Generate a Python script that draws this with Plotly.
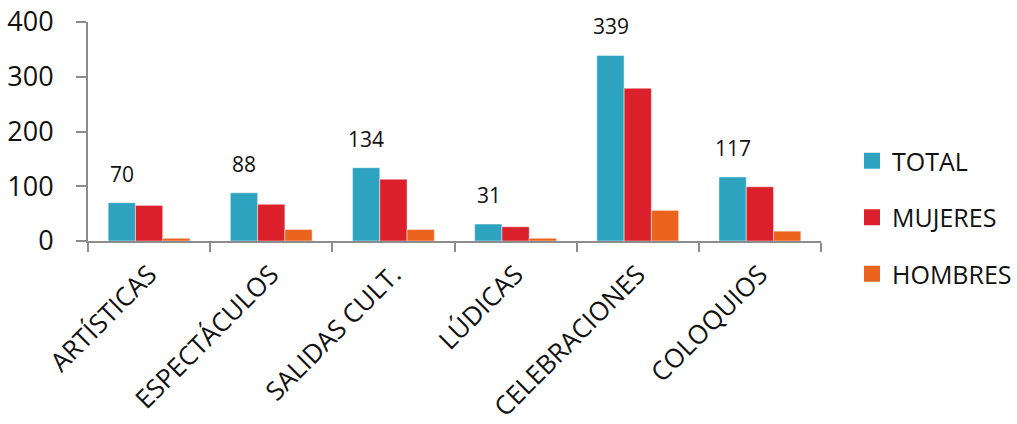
import plotly.graph_objects as go

categories = ["ARTÍSTICAS", "ESPECTÁCULOS", "SALIDAS CULT.", "LÚDICAS", "CELEBRACIONES", "COLOQUIOS"]
total = [70, 88, 134, 31, 339, 117]
mujeres = [65, 67, 113, 26, 279, 99]
hombres = [5, 21, 21, 5, 56, 18]
series_names = ["TOTAL", "MUJERES", "HOMBRES"]
colors = ["#2DA3C0", "#DB1F2B", "#EA6420"]
y_ticks = [0, 100, 200, 300, 400]

FONT = "Open Sans"
fig = go.Figure()
for name, vals, col in zip(series_names, [total, mujeres, hombres], colors):
    fig.add_trace(go.Bar(
        x=categories, y=vals, name=name, marker_color=col,
        marker_line=dict(width=0.8, color="rgba(255,255,255,0.6)"),
        showlegend=False,
    ))
# legend entries
for i, (name, col) in enumerate(zip(series_names, colors)):
    fig.add_trace(go.Scatter(
        x=[None], y=[None], mode="markers", name=name,
        marker=dict(symbol="square", size=19, color=col),
        legendgroup=name, showlegend=True,
    ))

# data labels for TOTAL
for c, v in zip(categories, total):
    fig.add_annotation(x=c, y=v, text=str(v), showarrow=False, xshift=-27,
                       yanchor="bottom", yshift=13,
                       font=dict(family=FONT, size=21, color="#111"))

fig.update_layout(
    width=1017, height=424,
    margin=dict(l=88, r=196, t=22, b=183),
    plot_bgcolor="white", paper_bgcolor="white",
    barmode="group", bargap=0.33, bargroupgap=0,
    font=dict(family=FONT, color="#111"),
    legend=dict(
        xref="container", yref="container", x=852/1017, y=1 - 138/424,
        xanchor="left", yanchor="top",
        font=dict(family=FONT, size=25, color="#111"),
        tracegroupgap=21, bgcolor="rgba(0,0,0,0)",
    ),
)
fig.update_xaxes(
    automargin=False,
    showline=True, linecolor="#8C8C8C", linewidth=2,
    ticks="outside", tickson="boundaries", ticklen=9, tickcolor="#8C8C8C", tickwidth=2,
    tickangle=-45, tickfont=dict(family=FONT, size=26, color="#111"),
    ticklabelstandoff=6,
    showgrid=False, zeroline=False,
)
fig.update_yaxes(
    automargin=False,
    range=[0, 400], tickvals=y_ticks,
    showline=True, linecolor="#8C8C8C", linewidth=2,
    ticks="outside", ticklen=10, tickcolor="#8C8C8C", tickwidth=2,
    tickfont=dict(family=FONT, size=27, color="#111"), ticklabelstandoff=17,
    showgrid=False, zeroline=False,
)
fig.write_html("out.html", config={"displayModeBar": False},
               post_script="document.body.style.margin='0';document.body.style.overflow='hidden';")
